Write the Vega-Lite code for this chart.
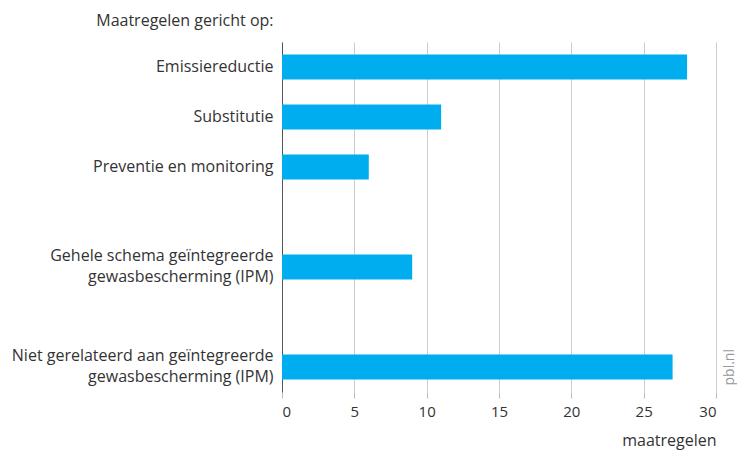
{
  "$schema": "https://vega.github.io/schema/vega-lite/v6.json",
  "width": 434,
  "height": 350,
  "autosize": {"type": "none"},
  "padding": {"left": 282, "top": 42, "right": 21, "bottom": 61},
  "background": "white",
  "config": {
    "view": {"stroke": null},
    "font": "Open Sans",
    "axis": {"labelFont": "Open Sans", "titleFont": "Open Sans", "labelColor": "#333333", "titleColor": "#333333", "labelFontSize": 16, "titleFontSize": 16, "titleFontWeight": "normal"}
  },
  "data": {
    "values": [
      {"cat": "Emissiereductie", "value": 28},
      {"cat": "Substitutie", "value": 11},
      {"cat": "Preventie en monitoring", "value": 6},
      {"cat": "Gehele schema geïntegreerde|gewasbescherming (IPM)", "value": 9},
      {"cat": "Niet gerelateerd aan geïntegreerde|gewasbescherming (IPM)", "value": 27}
    ]
  },
  "layer": [
    {
      "mark": {"type": "bar", "color": "#00AEEF"},
      "encoding": {
        "y": {
          "field": "cat", "type": "nominal", "sort": null,
          "scale": {
            "domain": ["Emissiereductie", "Substitutie", "Preventie en monitoring", " ", "Gehele schema geïntegreerde|gewasbescherming (IPM)", "  ", "Niet gerelateerd aan geïntegreerde|gewasbescherming (IPM)"],
            "paddingInner": 0.5, "paddingOuter": 0.25
          },
          "axis": {
            "orient": "left", "ticks": false, "labelPadding": 9,
            "domain": true, "domainColor": "#555555", "domainWidth": 1,
            "labelExpr": "split(datum.value, '|')", "labelLineHeight": 21, "labelLimit": 400,
            "labelOffset": {"condition": {"test": "indexof(datum.value, '|') >= 0", "value": -11}, "value": 0},
            "title": "Maatregelen gericht op:", "titleAngle": 0, "titleAlign": "right",
            "titleBaseline": "alphabetic", "titleX": -9, "titleY": -17
          }
        },
        "x": {
          "field": "value", "type": "quantitative",
          "scale": {"domain": [0, 30], "nice": false},
          "axis": {
            "values": [0, 5, 10, 15, 20, 25, 30], "grid": true, "gridColor": "#cccccc",
            "domain": false, "tickColor": "#bbbbbb", "tickSize": 6, "labelPadding": 6, "labelFontSize": 15,
            "title": "maatregelen", "titleAlign": "right", "titleAnchor": "end",
            "titleX": 434, "titleY": 53, "titleBaseline": "alphabetic"
          }
        }
      }
    },
    {
      "mark": {"type": "bar", "opacity": 0},
      "encoding": {
        "y": {
          "field": "cat", "type": "nominal", "sort": null,
          "axis": {
            "orient": "right", "labels": false, "ticks": false, "domain": false, "grid": false,
            "title": "pbl.nl", "titleAngle": 270, "titleAlign": "left", "titleBaseline": "middle",
            "titleX": 13, "titleY": 343, "titleColor": "#999999", "titleFontSize": 14
          }
        },
        "x": {"field": "value", "type": "quantitative"}
      }
    }
  ],
  "resolve": {"axis": {"y": "independent"}}
}
